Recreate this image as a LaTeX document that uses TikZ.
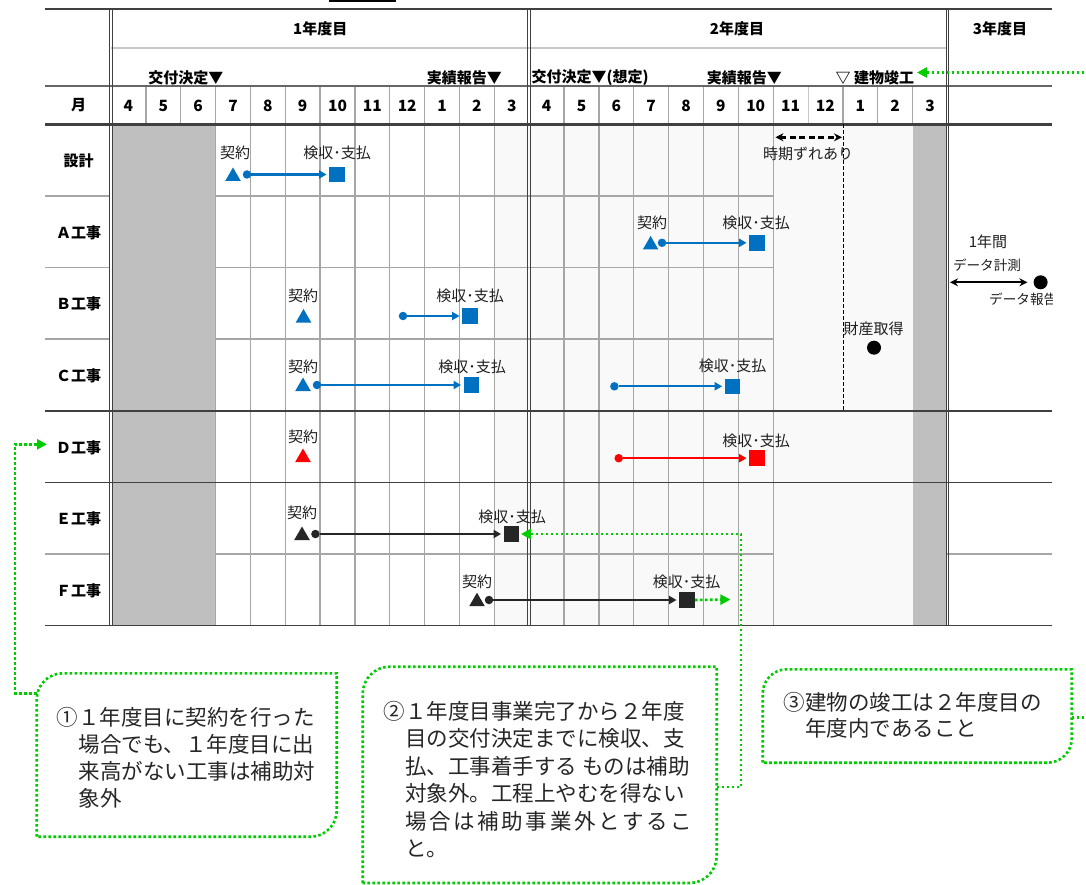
\documentclass[tikz,border=0pt]{standalone}
\usepackage{fontspec}
\setmainfont{Noto Sans CJK JP}
\usetikzlibrary{shapes.geometric,arrows.meta,calc}
\definecolor{mblue}{RGB}{0,112,192}
\definecolor{mred}{RGB}{255,0,0}
\definecolor{mblk}{RGB}{38,38,38}
\definecolor{ggreen}{RGB}{0,204,0}
\definecolor{gridgray}{RGB}{166,166,166}
\definecolor{lightgrid}{RGB}{200,200,200}
\definecolor{linedark}{RGB}{64,64,64}
\definecolor{blockgray}{RGB}{191,191,191}
\definecolor{lightfill}{RGB}{249,249,249}
\newcommand\cobox[5]{%
  \draw[gline] ({#1},{#4}) -- ({#1},{#2+#5})
    .. controls ({#1},{#2+0.45*#5}) and ({#1+0.45*#5},{#2}) .. ({#1+#5},{#2})
    -- ({#3},{#2}) -- ({#3},{#4-#5})
    .. controls ({#3},{#4-0.45*#5}) and ({#3-0.45*#5},{#4}) .. ({#3-#5},{#4})
    -- cycle;}
\begin{document}
\begin{tikzpicture}[x=1pt,y=-1pt,
  gridln/.style={draw=gridgray,line width=1.3pt},
  darkln/.style={draw=linedark,line width=1.5pt},
  dbl/.style={draw=linedark,line width=0.9pt},
  hdr/.style={inner sep=0pt,font=\bfseries\fontsize{15}{18}\selectfont},
  mon/.style={inner sep=0pt,font=\bfseries\fontsize{15.5}{18}\selectfont},
  lbl/.style={inner sep=0pt,text=black!88,font=\fontsize{15}{18}\selectfont},
  klbl/.style={inner sep=0pt,text=black!88,font=\fontsize{13.6}{18}\selectfont},
  ctext/.style={inner sep=0pt,anchor=base west,text=black!85,font=\fontsize{21.5}{27}\selectfont},
  mtri/.style={regular polygon,regular polygon sides=3,minimum size=18pt,inner sep=0pt,fill=#1},
  msq/.style={rectangle,minimum size=15.5pt,inner sep=0pt,fill=#1},
  mdot/.style={circle,minimum size=8.5pt,inner sep=0pt,fill=#1},
  bdot/.style={circle,minimum size=14pt,inner sep=0pt,fill=black},
  bar/.style={draw=#1,line width=2.2pt,-{Triangle[length=7.5pt,width=8pt]},shorten >=2.5pt},
  gline/.style={draw=ggreen,line width=2.6pt,dash pattern=on 2.6pt off 2.4pt},
  garrow/.style={gline,-{Triangle[length=10pt,width=10pt]}},
]
\useasboundingbox (0,0) rectangle (1086,885);
\fill[white] (0,0) rectangle (1086,885);

% fills
\fill[lightfill] (494.35,124.3) rectangle (947.4,625.3);
\fill[blockgray] (112.4,124.3) rectangle (215.55,625.3);
\fill[blockgray] (912.55,124.3) rectangle (947.4,625.3);

% vertical grid lines in the body
\foreach \k in {3,...,11}
  \draw[gridln] ({111+34.85*\k},124.3) -- ({111+34.85*\k},625.3);
\foreach \k in {13,...,19}
  \draw[gridln] ({111+34.85*\k},124.3) -- ({111+34.85*\k},625.3);
% vertical grid lines in the month row
\foreach \k in {1,...,11}
  \draw[gridln] ({111+34.85*\k},86) -- ({111+34.85*\k},124.3);
\foreach \k in {13,...,19,21,22,23}
  \draw[gridln] ({111+34.85*\k},86) -- ({111+34.85*\k},124.3);
\draw[draw=lightgrid,line width=0.8pt] ({111+34.85*20},86) -- ({111+34.85*20},124.3);

% horizontal body lines
\foreach \y in {196,267.5,339} {
  \draw[gridln] (45,\y) -- (109.8,\y);
  \draw[gridln] (215.55,\y) -- (773.15,\y);
}
\draw[gridln] (45,554) -- (109.8,554);
\draw[gridln] (215.55,554) -- (773.15,554);
\draw[gridln] (947.4,554) -- (1052.3,554);
\draw[darkln] (45,411) -- (1052.3,411);
\draw[darkln] (45,482.3) -- (1052.3,482.3);
\draw[darkln] (45,625.3) -- (1052.3,625.3);

% header lines
\draw[darkln] (45,9) -- (1052.3,9);
\draw[draw=lightgrid,line width=2pt] (111,47.7) -- (947.4,47.7);
\draw[draw=linedark!80,line width=1.5pt] (45,86) -- (1052.3,86);
\draw[draw=linedark,line width=3pt] (45,124.3) -- (1052.3,124.3);

% double vertical lines
\foreach \x in {111,529.2,947.4} {
  \draw[dbl] ({\x-1.4},9) -- ({\x-1.4},625.3);
  \draw[dbl] ({\x+1.4},9) -- ({\x+1.4},625.3);
}

% dashed vertical line
\draw[black,line width=0.8pt,dash pattern=on 4pt off 2pt] (843.5,124.3) -- (843.5,411);

% top short line
\draw[black,line width=1.6pt] (329,1) -- (396,1);

% header texts
\node[hdr] (y1) at (320.3,28.5) {1年度目};
\node[hdr] (y2) at (737,28.5) {2年度目};
\node[hdr] (y3) at (1000,28.5) {3年度目};
\node[hdr,anchor=east] (ev1) at (223.5,78) {交付決定▼};
\node[hdr,anchor=east] (ev2) at (502,78) {実績報告▼};
\node[hdr,anchor=west] (ev3) at (531.5,78) {交付決定▼(想定)};
\node[hdr,anchor=east] (ev4) at (782,78) {実績報告▼};
\node[hdr,anchor=west] (kanko) at (835.5,78) {▽ 建物竣工};
\coordinate (gEnd) at (917,72.5);

% month numbers
\foreach \m [count=\i from 0] in {4,5,6,7,8,9,10,11,12,1,2,3,4,5,6,7,8,9,10,11,12,1,2,3}
  \node[mon] (m\i) at ({111+34.85*\i+17.425},105.5) {\m};

% row labels
\node[hdr] (r0) at (78.5,105.5) {月};
\node[hdr] (r1) at (78.5,161) {設計};
\node[hdr] (r2) at (78.5,232.7) {Ａ工事};
\node[hdr] (r3) at (78.5,304) {Ｂ工事};
\node[hdr] (r4) at (78.5,375.5) {Ｃ工事};
\node[hdr] (r5) at (78.5,447.7) {Ｄ工事};
\node[hdr] (r6) at (78.5,519) {Ｅ工事};
\node[hdr] (r7) at (78.5,590.5) {Ｆ工事};

% 設計
\node[lbl] (k1) at (235,153) {契約};
\node[mtri=mblue] (t1) at (233,176.5) {};
\node[mdot=mblue] (d1) at (247,174.5) {};
\node[msq=mblue] (s1) at (337,174.5) {};
\node[lbl] (p1) at (337,153) {検収･支払};
% A
\node[lbl] (k2) at (652,223) {契約};
\node[mtri=mblue] (t2) at (650.6,245) {};
\node[mdot=mblue] (d2) at (662,242.8) {};
\node[msq=mblue] (s2) at (757,242.8) {};
\node[lbl] (p2) at (756,223) {検収･支払};
% B
\node[lbl] (k3) at (303,296) {契約};
\node[mtri=mblue] (t3) at (303.5,318) {};
\node[mdot=mblue] (d3) at (403,316) {};
\node[msq=mblue] (s3) at (470,316) {};
\node[lbl] (p3) at (470,296) {検収･支払};
% C
\node[lbl] (k4) at (303,366.7) {契約};
\node[mtri=mblue] (t4) at (303,386.5) {};
\node[mdot=mblue] (d4) at (317,385) {};
\node[msq=mblue] (s4) at (471.5,385) {};
\node[lbl] (p4) at (472,367) {検収･支払};
\node[mdot=mblue] (d5) at (614.4,386.3) {};
\node[msq=mblue] (s5) at (732.6,386.3) {};
\node[lbl] (p5) at (732.5,366) {検収･支払};
\node[lbl] (zai) at (873.6,329.3) {財産取得};
\node[bdot] (zd) at (874,347.7) {};
% D
\node[lbl] (k6) at (303,437.3) {契約};
\node[mtri=mred] (t6) at (303,457.5) {};
\node[mdot=mred] (d6) at (618.7,458.2) {};
\node[msq=mred] (s6) at (757,458.2) {};
\node[lbl] (p6) at (756,441) {検収･支払};
% E
\node[lbl] (k7) at (302,513.3) {契約};
\node[mtri=mblk] (t7) at (302,535.5) {};
\node[mdot=mblk] (d7) at (315.4,534) {};
\node[msq=mblk] (s7) at (511.5,534) {};
\node[lbl] (p7) at (512,517) {検収･支払};
% F
\node[lbl] (k8) at (477,581.7) {契約};
\node[mtri=mblk] (t8) at (477,601.7) {};
\node[mdot=mblk] (d8) at (489,600) {};
\node[msq=mblk] (s8) at (687,600) {};
\node[lbl] (p8) at (686.6,581.7) {検収･支払};

% bars
\draw[bar=mblue] (d1) -- (s1);
\draw[bar=mblue] (d2) -- (s2);
\draw[bar=mblue] (d3) -- (s3);
\draw[bar=mblue] (d4) -- (s4);
\draw[bar=mblue] (d5) -- (s5);
\draw[bar=mred] (d6) -- (s6);
\draw[bar=mblk] (d7) -- (s7);
\draw[bar=mblk] (d8) -- (s8);

% 時期ずれあり
\coordinate (js1) at (775.4,137.3);
\coordinate (js2) at (842,137.3);
\draw[black,line width=2.5pt,dash pattern=on 6pt off 3.5pt,{Stealth[length=8pt,width=8pt]}-{Stealth[length=8pt,width=8pt]}] (js1) -- (js2);
\node[lbl] (js) at (808,154) {時期ずれあり};

% 3年度目
\node[lbl] (yr) at (988,241.7) {1年間};
\node[klbl] (dk) at (987,265.7) {データ計測};
\coordinate (dkl) at (950,282.3);
\node[bdot] (dh) at (1040.6,282.3) {};
\draw[black,line width=2.2pt,shorten >=6pt,{Stealth[length=8pt,width=8pt]}-{Stealth[length=8pt,width=8pt]}] (dkl) -- (dh);
\begin{scope}
  \clip (940,288) rectangle (1052.5,312);
  \node[klbl,anchor=west] (dr) at (989,299.5) {データ報告};
\end{scope}

% callouts
\cobox{36.7}{673.3}{336.7}{836.7}{26}
\cobox{362.7}{666.7}{716.7}{883}{27}
\cobox{762.7}{669.3}{1071.7}{762.7}{24}
\coordinate (c1in) at (36.7,693.3);
\coordinate (c2out) at (716.7,787);
\coordinate (c3out) at (1071.7,717.3);
\coordinate (dTip) at (47,444.3);
\coordinate (fTip) at (730.4,599.5);

\node[ctext] (c1a) at (56.7,725) {①１年度目に契約を行った};
\node[ctext] (c1b) at (78.3,752) {場合でも、１年度目に出};
\node[ctext] (c1c) at (78.3,779.3) {来高がない工事は補助対};
\node[ctext] (c1d) at (78.3,806) {象外};

\node[ctext] (c2a) at (383.3,719.2) {②１年度目事業完了から２年度};
\node[ctext] (c2b) at (405,746.5) {目の交付決定までに検収、支};
\node[ctext] (c2c) at (405,774.2) {払、工事着手する ものは補助};
\node[ctext] (c2d) at (405,801.5) {対象外。工程上やむを得ない};
\node[ctext] (c2e) at (405,829.2) {\makebox[287pt][s]{場\hfil 合\hfil は\hfil 補\hfil 助\hfil 事\hfil 業\hfil 外\hfil と\hfil す\hfil る\hfil こ}};
\node[ctext] (c2f) at (405,856.5) {と。};

\node[ctext] (c3a) at (783.3,710) {③建物の竣工は２年度目の};
\node[ctext] (c3b) at (805,736.5) {年度内であること};

% green connectors
\draw[garrow] (c1in) -- (15,693.3) |- (dTip);
\draw[garrow,shorten >=1.5pt] (c2out) -- (741,787) |- (s7.east);
\draw[garrow] (c3out) -- (1098,717.3) |- (gEnd);
\draw[garrow] (s8.east) -- (fTip);
\end{tikzpicture}
\end{document}
